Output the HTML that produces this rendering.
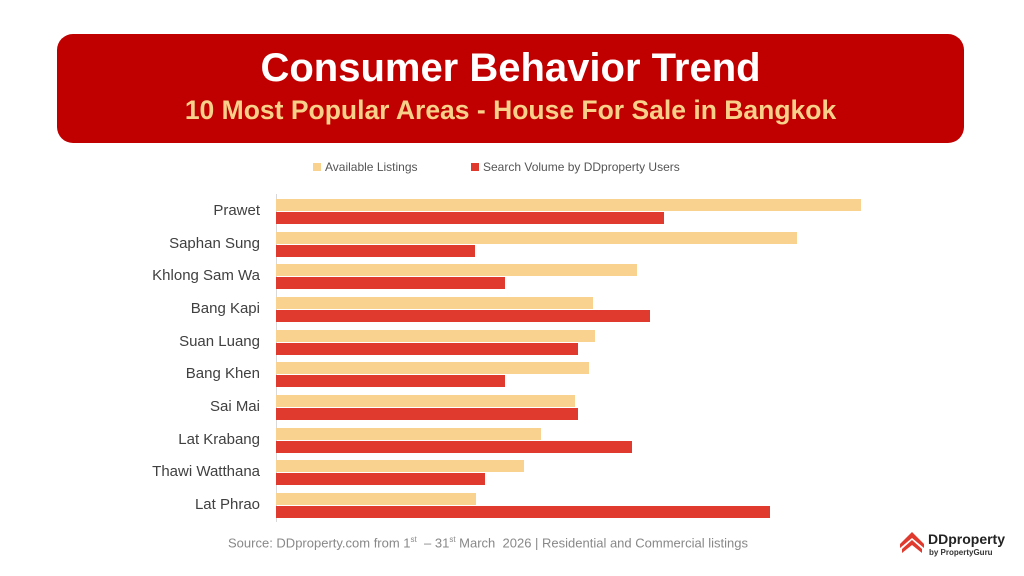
<!DOCTYPE html>
<html><head><style>
body{margin:0;width:1024px;height:576px;background:#fff;position:relative;overflow:hidden;font-family:"Liberation Sans",sans-serif}
.ban{position:absolute;left:57px;top:34px;width:907px;height:109px;background:#c00000;border-radius:16px;text-align:center}
.t1{position:absolute;top:12px;width:100%;color:#fff;font-weight:bold;font-size:40px}
.t2{position:absolute;top:61px;width:100%;color:#f8d08a;font-weight:bold;font-size:26.5px}
.lab{position:absolute;right:764px;font-size:15px;color:#404040;white-space:nowrap}
.b{position:absolute;left:276px;height:12px}
.y{background:#f9d28f}.r{background:#e03a2e}
.leg{position:absolute;top:160px;font-size:12px;color:#555}
.sq{display:inline-block;width:8px;height:8px;margin-right:4px}
</style></head><body>
<div class="ban"><div class="t1">Consumer Behavior Trend</div><div class="t2">10 Most Popular Areas - House For Sale in Bangkok</div></div>
<div class="leg" style="left:313px"><span class="sq y"></span>Available Listings</div>
<div class="leg" style="left:471px"><span class="sq r"></span>Search Volume by DDproperty Users</div>
<div style="position:absolute;left:276px;top:194px;width:1px;height:328px;background:#d9d9d9"></div>
<div id="c"></div>
<div style="position:absolute;left:228px;top:535px;font-size:13px;color:#888">Source: DDproperty.com from 1<sup style="font-size:8px">st</sup> &nbsp;– 31<sup style="font-size:8px">st</sup> March &nbsp;2026 | Residential and Commercial listings</div>
<svg style="position:absolute;left:898px;top:530px" width="28" height="28" viewBox="0 0 28 28"><path d="M14 2 L26 14 L26 18 L14 8 L2 18 L2 14Z M14 10 L24 19 L24 23 L14 15 L4 23 L4 19Z" fill="#e03a2e"/></svg>
<div style="position:absolute;left:928px;top:531px;font-size:14px;font-weight:bold;color:#222">DDproperty</div>
<div style="position:absolute;left:929px;top:548px;font-size:8px;font-weight:bold;color:#333">by PropertyGuru</div>
<script>
var n=["Prawet","Saphan Sung","Khlong Sam Wa","Bang Kapi","Suan Luang","Bang Khen","Sai Mai","Lat Krabang","Thawi Watthana","Lat Phrao"];
var y=[861,797,637,593,595,589,575,541,524,476],r=[664,475,505,650,578,505,578,632,485,770],h="";
for(var i=0;i<10;i++){var c=211+i*32.67;
h+='<div class="lab" style="top:'+(c-9)+'px">'+n[i]+'</div><div class="b y" style="top:'+(c-12)+'px;width:'+(y[i]-276)+'px"></div><div class="b r" style="top:'+(c+1)+'px;width:'+(r[i]-276)+'px"></div>';}
document.getElementById("c").innerHTML=h;
</script>
</body></html>
